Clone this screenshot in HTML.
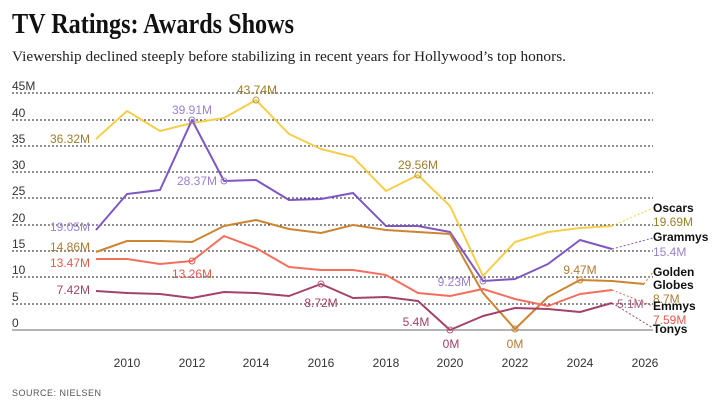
<!DOCTYPE html>
<html><head><meta charset="utf-8"><style>
html,body{margin:0;padding:0;background:#fff;}
svg{display:block;font-family:"Liberation Sans",sans-serif;}
</style></head><body>
<svg width="720" height="403" viewBox="0 0 720 403">
<text x="12" y="33" font-family="Liberation Serif,serif" font-weight="bold" font-size="29" fill="#111" textLength="282" lengthAdjust="spacingAndGlyphs">TV Ratings: Awards Shows</text>
<text x="12" y="61" font-family="Liberation Serif,serif" font-size="15" fill="#222" textLength="554" lengthAdjust="spacingAndGlyphs">Viewership declined steeply before stabilizing in recent years for Hollywood’s top honors.</text>
<g stroke="#222" stroke-width="1" stroke-dasharray="2,2">
<line x1="12" x2="653" y1="93" y2="93"/><line x1="12" x2="653" y1="120" y2="120"/>
<line x1="12" x2="653" y1="146" y2="146"/><line x1="12" x2="653" y1="172" y2="172"/>
<line x1="12" x2="653" y1="198" y2="198"/><line x1="12" x2="653" y1="225" y2="225"/>
<line x1="12" x2="653" y1="251" y2="251"/><line x1="12" x2="653" y1="277" y2="277"/>
<line x1="12" x2="653" y1="304" y2="304"/>
</g>
<line x1="12" x2="653" y1="330" y2="330" stroke="#888" stroke-width="1.2"/>
<g font-size="12" fill="#333">
<text x="12" y="90">45M</text><text x="12" y="117">40</text><text x="12" y="143">35</text>
<text x="12" y="169">30</text><text x="12" y="195">25</text><text x="12" y="222">20</text>
<text x="12" y="248">15</text><text x="12" y="274">10</text><text x="12" y="301">5</text><text x="12" y="327">0</text>
</g>
<g font-size="12" fill="#333" text-anchor="middle">
<text x="127" y="367">2010</text><text x="192" y="367">2012</text><text x="256" y="367">2014</text>
<text x="321" y="367">2016</text><text x="386" y="367">2018</text><text x="450" y="367">2020</text>
<text x="515" y="367">2022</text><text x="580" y="367">2024</text><text x="645" y="367">2026</text>
</g>
<g fill="none" stroke-width="2" stroke-linejoin="round">
<polyline stroke="#f5cf4a" points="96,139 127,111 160,131 192,123 224,118 256,100 289,134 321,149 353,157 386,191 418,175 450,206 483,276 515,242 548,232 580,228 612,226"/>
<polyline stroke="#7e57c2" points="96,230 127,194 160,190 192,120 224,181 256,180 289,200 321,199 353,193 386,226 418,226 450,232 483,281 515,279 548,264 580,240 612,249"/>
<polyline stroke="#cc8530" points="96,252 127,241 160,241 192,242 224,226 256,220 289,229 321,233 353,225 386,230 418,232 450,234 483,293 515,329 548,297 580,280 612,281 644,284"/>
<polyline stroke="#f46e5e" points="96,259 127,259 160,264 192,261 224,236 256,248 289,267 321,270 353,270 386,275 418,293 450,296 483,289 515,299 548,306 580,294 612,290"/>
<polyline stroke="#a3426a" points="96,291 127,293 160,294 192,298 224,292 256,293 289,296 321,284 353,298 386,297 418,301 450,330 483,316 515,308 548,309 580,312 612,303"/>
</g>
<g fill="none" stroke-width="1" stroke-dasharray="2,2">
<line x1="612" y1="226" x2="653" y2="208" stroke="#f5cf4a"/>
<line x1="612" y1="249" x2="653" y2="238" stroke="#7e57c2"/>
<line x1="644" y1="284" x2="653" y2="272" stroke="#cc8530"/>
<line x1="612" y1="290" x2="653" y2="306" stroke="#f46e5e"/>
<line x1="612" y1="303" x2="653" y2="328" stroke="#a3426a"/>
</g>
<g fill="none" stroke-width="1">
<circle cx="256" cy="100" r="3" stroke="#b8993a"/><circle cx="418" cy="175" r="3" stroke="#b8993a"/>
<circle cx="192" cy="120" r="3" stroke="#9b7ed6"/><circle cx="224" cy="181" r="3" stroke="#9b7ed6"/><circle cx="483" cy="281" r="3" stroke="#9b7ed6"/>
<circle cx="192" cy="261" r="3" stroke="#e05b4b"/>
<circle cx="321" cy="284" r="3" stroke="#b35a7e"/><circle cx="450" cy="330" r="3" stroke="#b35a7e"/>
<circle cx="515" cy="329" r="3" stroke="#cc8530"/><circle cx="580" cy="280" r="3" stroke="#cc8530"/>
</g>
<g font-size="12">
<text x="90" y="143" text-anchor="end" fill="#9c7e2a">36.32M</text>
<text x="257" y="94" text-anchor="middle" fill="#9c7e2a">43.74M</text>
<text x="418" y="169" text-anchor="middle" fill="#9c7e2a">29.56M</text>
<text x="90" y="231" text-anchor="end" fill="#9b7ed6">19.05M</text>
<text x="192" y="114" text-anchor="middle" fill="#9b7ed6">39.91M</text>
<text x="217" y="185" text-anchor="end" fill="#9b7ed6">28.37M</text>
<text x="471" y="286" text-anchor="end" fill="#9b7ed6">9.23M</text>
<text x="90" y="251" text-anchor="end" fill="#b07a30">14.86M</text>
<text x="515" y="348" text-anchor="middle" fill="#b07a30">0M</text>
<text x="580" y="274" text-anchor="middle" fill="#b07a30">9.47M</text>
<text x="90" y="267" text-anchor="end" fill="#e05b4b">13.47M</text>
<text x="192" y="278" text-anchor="middle" fill="#e05b4b">13.26M</text>
<text x="90" y="294" text-anchor="end" fill="#a3426a">7.42M</text>
<text x="321" y="307" text-anchor="middle" fill="#a3426a">8.72M</text>
<text x="416" y="326" text-anchor="middle" fill="#a3426a">5.4M</text>
<text x="451" y="348" text-anchor="middle" fill="#a3426a">0M</text>
<text x="617" y="308" fill="#b35a7e">5.1M</text>
</g>
<g font-size="12">
<text x="653" y="212" fill="#111" font-weight="bold">Oscars</text>
<text x="653" y="226" fill="#9c7e2a">19.69M</text>
<text x="653" y="241" fill="#111" font-weight="bold">Grammys</text>
<text x="653" y="256" fill="#9b7ed6">15.4M</text>
<text x="653" y="276" fill="#111" font-weight="bold">Golden</text>
<text x="653" y="289" fill="#111" font-weight="bold">Globes</text>
<text x="653" y="303" fill="#b07a30">8.7M</text>
<text x="653" y="310" fill="#111" font-weight="bold">Emmys</text>
<text x="653" y="324" fill="#e05b4b">7.59M</text>
<text x="653" y="333" fill="#111" font-weight="bold">Tonys</text>
</g>
<text x="12" y="396" font-size="9" fill="#555" letter-spacing="0.5">SOURCE: NIELSEN</text>
</svg>
</body></html>
